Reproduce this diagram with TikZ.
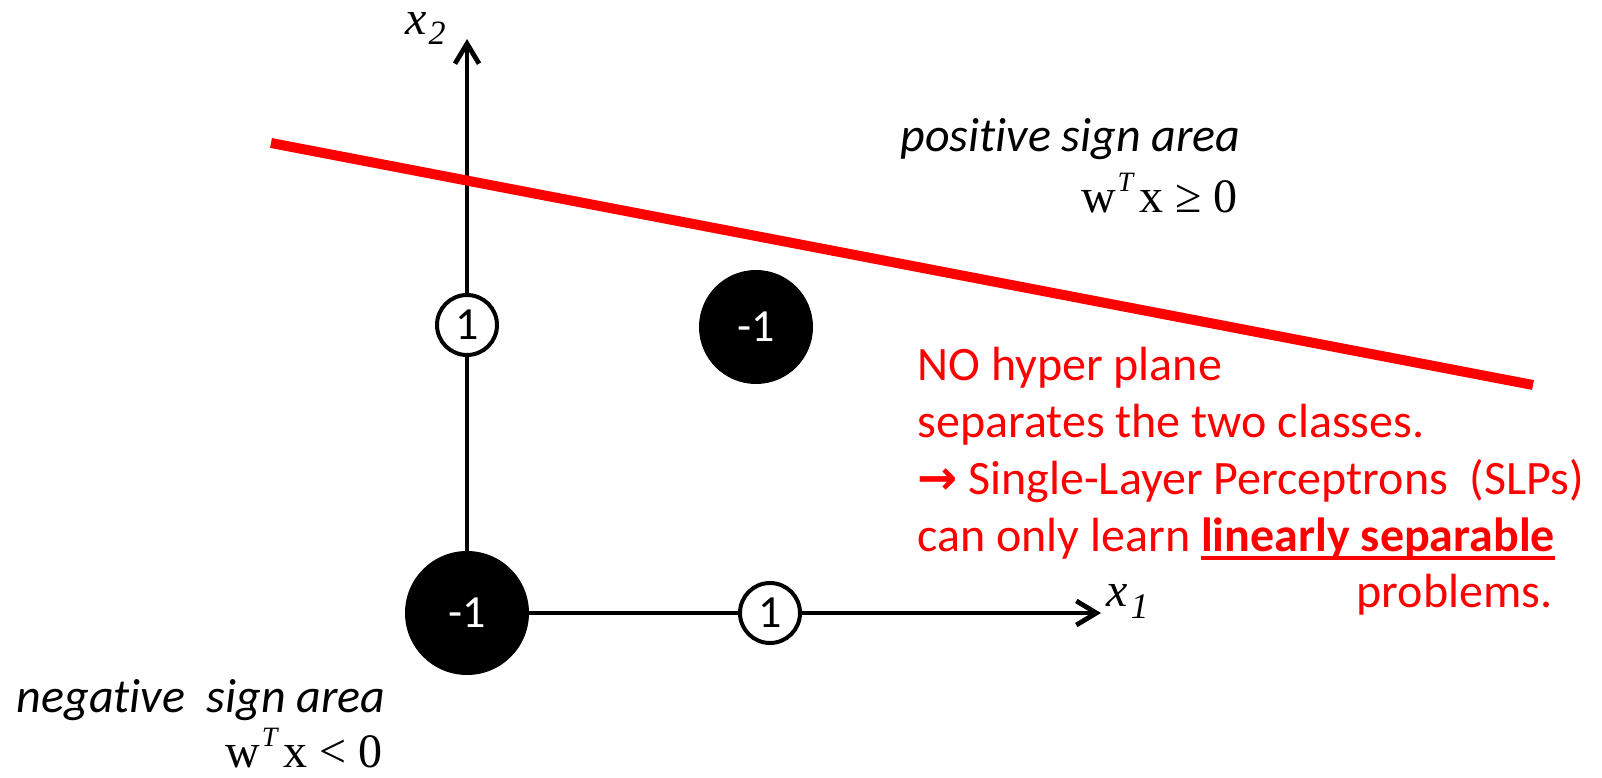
\documentclass[tikz,border=0pt]{standalone}
\usepackage{fontspec}
\setmainfont{Carlito}[Ligatures=CommonOff]
\newfontfamily\timesfont{Liberation Serif}
\newfontfamily\symfont{DejaVu Sans}
\usetikzlibrary{arrows.meta}
\newcommand\redul[1]{\setbox0\hbox{#1}\rlap{\rule[-4pt]{\wd0}{2pt}}\box0}

\begin{document}
\begin{tikzpicture}[x=0.5pt,y=0.5pt,
  axis/.style={line width=2pt,-{Straight Barb[length=10pt,width=12pt,line width=2.4pt]}},
  hyper/.style={line width=5pt,red},
  posdot/.style={circle,draw,line width=2pt,fill=white,minimum size=30pt,inner sep=0pt,font=\fontsize{23}{28}\selectfont},
  negdot/.style={circle,fill=black,text=white,inner sep=0pt,font=\fontsize{23}{28}\selectfont},
  axlbl/.style={inner sep=0pt,text height=0.5em,font=\timesfont\itshape\fontsize{24}{28}\selectfont},
  area/.style={inner sep=0pt,font=\itshape\fontsize{24}{28}\selectfont},
  formula/.style={inner sep=0pt,font=\timesfont\fontsize{24}{28}\selectfont},
  note/.style={inner sep=0pt,text=red,align=left,font=\fontsize{24}{28.5}\selectfont}]
\useasboundingbox (0,0) rectangle (1602,777);
\coordinate (origin) at (467,164);
\coordinate (x1tip) at (1101,164);
\coordinate (x2tip) at (467,738);
\coordinate (hpleft) at (271,634);
\coordinate (hpright) at (1533,392);
\draw[axis] (origin) -- (x1tip);
\draw[axis] (origin) -- (x2tip);
\draw[hyper] (hpleft) -- (hpright);
\node[posdot] (posy) at (467,452) {1};
\node[posdot] (posx) at (770,164) {1};
\node[negdot,minimum size=57pt] (negmid) at (756,450) {-1};
\node[negdot,minimum size=62pt] (negorg) at (origin) {-1};
\node[axlbl,anchor=base west] (x1lbl) at (1106,170) {x\hspace{1.5pt}\raisebox{-6pt}{\fontsize{18}{20}\selectfont 1}};
\node[axlbl,anchor=base east] (x2lbl) at (446,742) {x\hspace{1pt}\raisebox{-5pt}{\fontsize{17}{20}\selectfont 2}};
\node[area,anchor=base east] (posarea) at (1241,625) {positive sign area};
\node[formula,anchor=base east] (posrule) at (1238,564) {w\hspace{1pt}\raisebox{10.5pt}{\fontsize{14}{16}\selectfont\itshape T}\hspace{3pt}x ≥ 0};
\node[area,anchor=base east] (negarea) at (386,64) {negative\ \ sign area};
\node[formula,anchor=base east] (negrule) at (383,10) {w\hspace{1pt}\raisebox{10.5pt}{\fontsize{14}{16}\selectfont\itshape T}\hspace{3pt}x < 0};
\node[note,anchor=base west] (nohp) at (917,225) {NO hyper plane\\separates the two classes.\\{\symfont\bfseries →} Single-Layer Perceptrons\ \ (SLPs)\\can only learn \redul{\textbf{linearly separable}}};
\node[note,anchor=base east] (probs) at (1553,169) {problems.};
\end{tikzpicture}
\end{document}
